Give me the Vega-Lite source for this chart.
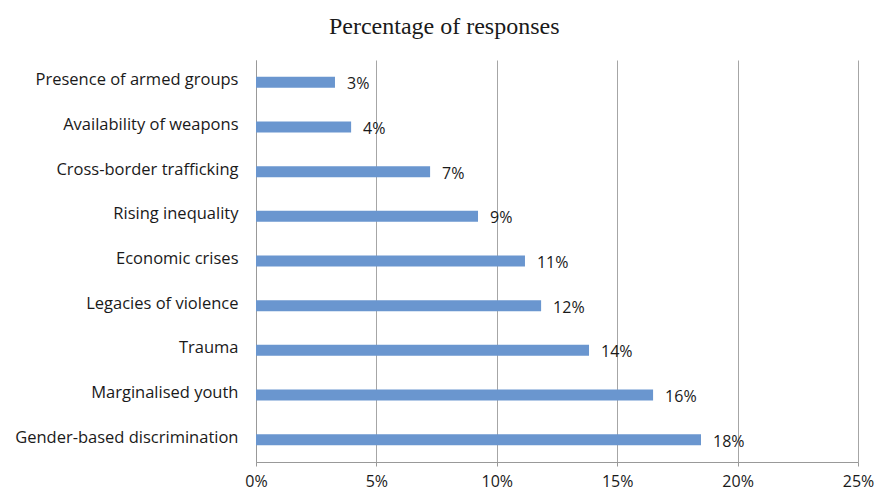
{
  "$schema": "https://vega.github.io/schema/vega-lite/v6.json",
  "width": 602,
  "height": 402,
  "autosize": {"type": "none"},
  "padding": {"left": 256, "top": 60, "right": 21, "bottom": 28},
  "background": "white",
  "title": {"text": "Percentage of responses", "font": "Liberation Serif", "fontSize": 24, "fontWeight": "normal", "color": "#1a1a1a", "anchor": "middle", "frame": "bounds", "offset": 21},
  "data": {"values": [
    {"cause": "Presence of armed groups", "pct": 3.28, "label": "3%"},
    {"cause": "Availability of weapons", "pct": 3.95, "label": "4%"},
    {"cause": "Cross-border trafficking", "pct": 7.23, "label": "7%"},
    {"cause": "Rising inequality", "pct": 9.22, "label": "9%"},
    {"cause": "Economic crises", "pct": 11.17, "label": "11%"},
    {"cause": "Legacies of violence", "pct": 11.84, "label": "12%"},
    {"cause": "Trauma", "pct": 13.83, "label": "14%"},
    {"cause": "Marginalised youth", "pct": 16.49, "label": "16%"},
    {"cause": "Gender-based discrimination", "pct": 18.48, "label": "18%"}
  ]},
  "encoding": {
    "y": {"field": "cause", "type": "nominal", "sort": null, "title": null,
      "axis": {"labelFont": "Open Sans", "labelFontSize": 16.5, "labelColor": "#1a1a1a", "labelPadding": 18, "labelOffset": -2, "ticks": false, "domainColor": "#999999", "labelLimit": 300}},
    "x": {"field": "pct", "type": "quantitative", "title": null,
      "scale": {"domain": [0, 25], "nice": false},
      "axis": {"values": [0, 5, 10, 15, 20, 25], "labelExpr": "datum.value + '%'", "labelFont": "Open Sans", "labelFontSize": 16, "labelColor": "#1a1a1a", "labelPadding": 7, "tickColor": "#999999", "tickSize": 4, "domainColor": "#999999", "gridColor": "#a6a6a6", "grid": true, "labelFlush": false}}
  },
  "layer": [
    {"mark": {"type": "bar", "color": "#6a96cf", "height": 11}},
    {"mark": {"type": "text", "align": "left", "dx": 12, "dy": 2, "font": "Open Sans", "fontSize": 16, "color": "#1a1a1a"},
     "encoding": {"text": {"field": "label"}}}
  ],
  "config": {"view": {"stroke": null}}
}
